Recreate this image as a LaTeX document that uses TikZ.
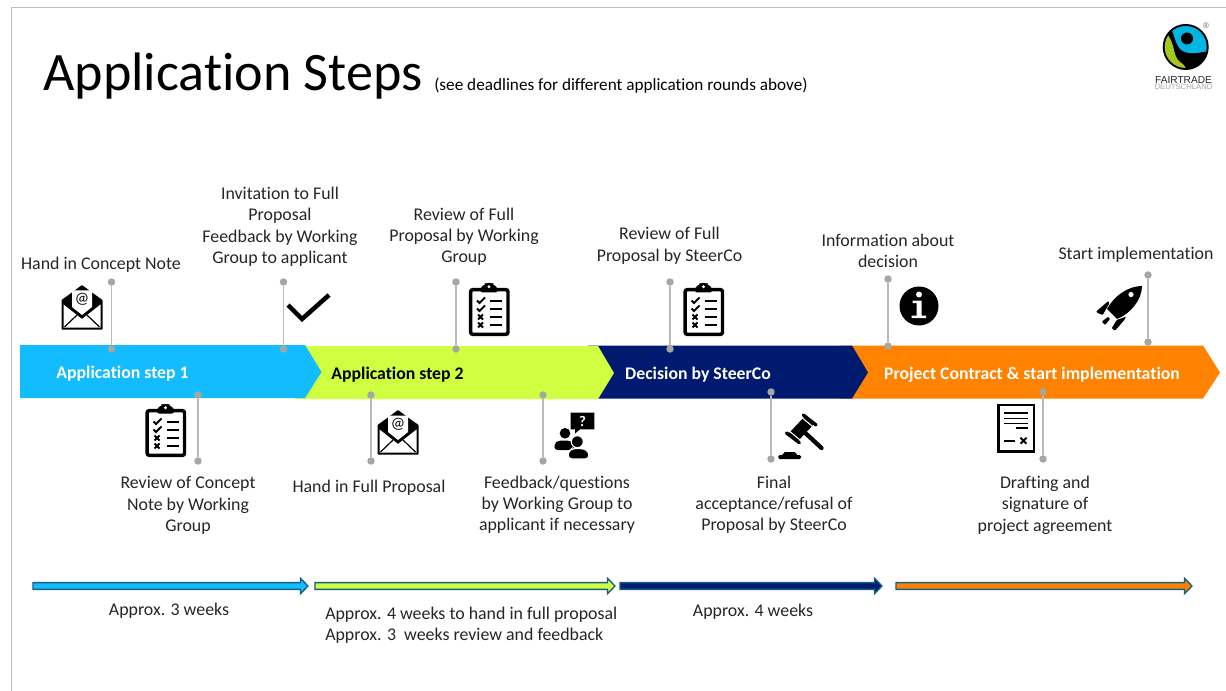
\documentclass[tikz,border=0pt]{standalone}
\usepackage{fontspec}
\usetikzlibrary{calc}
\setmainfont[Ligatures=CommonOff]{Carlito}
\newfontfamily\logofont{Liberation Sans}
\definecolor{cblue}{HTML}{12BCFF}
\definecolor{cgreen}{HTML}{CFFF40}
\definecolor{cnavy}{HTML}{001A70}
\definecolor{corange}{HTML}{FF8200}
\definecolor{edge}{HTML}{156082}
\definecolor{ink}{HTML}{262626}
\definecolor{leadc}{HTML}{B8BAB6}
\definecolor{dotc}{HTML}{A3A9A0}
\definecolor{logoblue}{HTML}{00B5E2}
\definecolor{logogreen}{HTML}{A4C81E}
\tikzset{
  x=0.75pt,y=-0.75pt,
  lab/.style={font=\fontsize{13.4pt}{15.85pt}\selectfont,text=ink,align=center,inner sep=0,yshift=-.6pt},
  barlab/.style={font=\fontsize{13.3pt}{15pt}\selectfont\bfseries,inner sep=0,yshift=-1.1pt},
  lead/.style={draw=leadc,line width=1.1pt},
  leaddot/.style={circle,fill=dotc,minimum size=5.6pt,inner sep=0},
  timearrow/.style={draw=edge,line width=1pt},
  pics/mail/.style={code={
    \fill[black,rounded corners=.5] (0,15)--(7,10)--(20.5,0)--(34,10)--(41,15)--(41,44.5)--(0,44.5)--cycle;
    \fill[white] (2,19.5)--(20.5,34)--(39,19.5)--(39,42.5)--(2,42.5)--cycle;
    \draw[black,line width=.9pt] (3,42)--(15.5,30) (38,42)--(25.5,30);
    \fill[white] (10.5,5.5)--(30.5,5.5)--(30.5,22)--(20.5,30)--(10.5,22)--cycle;
    \node[inner sep=0,font=\fontsize{12pt}{12pt}\selectfont] at (20.5,14.5) {@};
  }},
  pics/clip/.style={code={
    \draw[black,line width=2.6pt,rounded corners=1.5,fill=white] (1.7,6.7) rectangle (39,51.3);
    \fill[black,rounded corners=1.5] (11.5,4)--(14.5,4)--(15,1)--(17,0)--(23,0)--(25,1)--(25.5,4)--(28.5,4)--(28.5,9.5)--(11.5,9.5)--cycle;
    \fill[white] (20,3.8) circle (1.6);
    \foreach \yy in {17.5,25.5} {
      \draw[black,line width=1.4pt] (8,\yy)--(10.5,\yy+2.5)--(16,\yy-3);
    }
    \foreach \yy in {34,42} {
      \draw[black,line width=1.5pt] (9,\yy-2.5)--(14,\yy+2.5) (14,\yy-2.5)--(9,\yy+2.5);
    }
    \foreach \yy in {18,26,34,42} {
      \draw[black,line width=1.5pt] (21,\yy)--(33,\yy);
    }
  }},
}
\begin{document}
\begin{tikzpicture}
\useasboundingbox (0,0) rectangle (1226,691);
\fill[white] (0,0) rectangle (1226,691);
% page frame
\draw[draw=black!25,line width=.75pt] (11,691)--(11,8)--(1226,8);

% title
\node[anchor=base west,inner sep=0,font=\fontsize{40.6pt}{44pt}\selectfont,text=black] (title) at (43,91) {Application Steps};
\node[anchor=base west,inner sep=0,font=\fontsize{12.9pt}{14pt}\selectfont,text=black] (subtitle) at (434,91) {(see deadlines for different application rounds above)};

% logo
\begin{scope}
  \fill[black] (1185.7,47) circle (23);
  \begin{scope}
    \clip (1185.7,47) circle (21);
    \fill[logoblue] (1169,23)..controls (1175,36) and (1175,44)..(1181,50)
       ..controls (1190,56) and (1200,52)..(1210,51)--(1210,20)--cycle;
    \fill[logogreen] (1165,32)..controls (1176,42) and (1172,56)..(1180,62)
       ..controls (1184,64) and (1186,68)..(1187,72)--(1160,72)--(1160,32)--cycle;
  \end{scope}
  \fill[black] (1187,38.5) circle (6);
  \node[inner sep=0,font=\logofont\fontsize{6pt}{6pt}\selectfont,text=black!60] (reg) at (1206,26) {®};
  \node[inner sep=0,anchor=base,font=\logofont\fontsize{7.6pt}{8pt}\selectfont,text=black!85] (ftname) at (1183.5,84) {FAIRTRADE};
  \node[inner sep=0,anchor=base,font=\logofont\fontsize{5.8pt}{6pt}\selectfont,text=black!35] (ftde) at (1183.5,90) {DEUTSCHLAND};
\end{scope}

% chevrons
\fill[corange] (840,345.5)--(1203,345.5)--(1220,372.5)--(1203,398.5)--(840,398.5)--cycle;
\fill[cnavy] (588,345.5)--(852,345.5)--(868,372.5)--(852,398.5)--(588,398.5)--cycle;
\fill[cgreen] (295,346)--(598,346)--(614,373)--(598,399)--(295,399)--cycle;
\fill[cblue] (20,345)--(305,345)--(321.5,372)--(305,398)--(20,398)--cycle;

\node[barlab,text=white] (s1) at (122.5,372) {Application step 1};
\node[barlab,text=black] (s2) at (397.5,373) {Application step 2};
\node[barlab,text=white] (s3) at (698,373) {Decision by SteerCo};
\node[barlab,text=white] (s4) at (1032,373) {Project Contract \& start implementation};

% lead lines
\foreach \nm/\xx/\ya/\yb in {a/111.5/282/349,b/283.5/282/349,c/198/395/461,d/371/395/461,e/456/282/349,f/670/282/349,g/543/395/461,h/771/392/459,i/888/279/346,j/1148/275/342,k/1043/392/459}{
  \node[leaddot] (\nm1) at (\xx,\ya) {};
  \node[leaddot] (\nm2) at (\xx,\yb) {};
  \draw[lead] (\nm1)--(\nm2);
}

% icons
\pic at (61.5,285) {mail};
\pic at (377.5,410) {mail};
\pic at (145.5,404) {clip};
\pic at (469,283) {clip};
\pic at (683.5,283) {clip};
% check
\draw[black,line width=3.4pt,miter limit=10] (288,305)--(302,319)--(329,295);
% info
\fill[black] (919,306) circle (19.5);
\fill[white] (919,294.5) circle (3);
\fill[white] (912.5,300.5)--(921.5,300.5)--(921.5,315.5)--(926,315.5)--(926,318)--(911.5,318)--(911.5,315.5)--(916.5,315.5)--(916.5,303)--(912.5,303)--cycle;
% rocket
\fill[black] (1142,286)..controls (1128,286) and (1114,296)..(1107,309)
   --(1117,319)..controls (1130,314) and (1142,300)..(1142,286)--cycle;
\fill[white] (1131,294.5) circle (2.6);
\fill[black,rounded corners=.6] (1096,311.7)--(1108.3,301)--(1109.3,303.3)--(1102.7,315)--(1098.3,313.3)--cycle;
\fill[black,rounded corners=.6] (1126,316.7)--(1124.3,320)--(1115,330.7)--(1111.7,328.3)--(1116.7,320)--cycle;
\fill[black,rounded corners=.6] (1101.7,321.7)--(1108.3,316.7)--(1110,319)--(1105,325)--cycle;
% gavel
\draw[black,line width=3.2pt,line cap=round] (801,429)--(821.5,448);
\draw[black,line width=9pt] (809.6,420)--(793,437.5);
\draw[white,line width=.8pt] (803,418.5)--(815,428.5);
\draw[black,line width=2.5pt,line cap=round] (803.3,415)--(816,425);
\draw[white,line width=.8pt] (788,430)--(800,440);
\draw[black,line width=2.5pt,line cap=round] (786.5,433)--(799.3,442.7);
\fill[black,rounded corners=1] (778.3,455)--(783.5,455)--(783.5,452)--(796,452)--(796,455)--(801,455)--(801,459)--(778.3,459)--cycle;
% people
\fill[black] (570.7,412.7)--(594.3,412.7)--(594.3,429.3)--(580,429.3)--(575,433.5)--(575,429.3)--(570.7,429.3)--cycle;
\node[inner sep=0,text=white,font=\fontsize{11pt}{11pt}\selectfont\bfseries] (qmark) at (582.5,421) {?};
\fill[black] (565,433.3) circle (5.3);
\fill[black,rounded corners=2.5] (554.3,450)--(554.3,444)--(558,440.5)--(570,440.5)--(574,444)--(574,450)--cycle;
\fill[black,draw=white,line width=.8pt] (577.3,441.7) circle (6);
\fill[black,draw=white,line width=.8pt,rounded corners=3] (568,459)--(568,452)--(572,448.5)--(584,448.5)--(589,452)--(589,459)--cycle;
% contract
\draw[black,line width=2.1pt,fill=white] (998.5,405)rectangle(1034,451.7);
\draw[black,line width=1.2pt] (1004.3,412.7)--(1028.3,412.7) (1004.3,418.3)--(1028.3,418.3) (1004.3,423.3)--(1028.3,423.3) (1016,427.7)--(1028.3,427.7);
\draw[black,line width=1.3pt] (1004.3,440.7)--(1015,440.7);
\draw[black,line width=1.5pt] (1020.5,437.7)--(1026.5,443.7) (1026.5,437.7)--(1020.5,443.7);

% step labels
\node[lab] (t1) at (101,264) {Hand in Concept Note};
\node[lab] (t2) at (280,226) {Invitation to Full\\Proposal\\Feedback by Working\\Group to applicant};
\node[lab] (t3) at (464,236) {Review of Full\\Proposal by Working\\Group};
\node[lab] (t4) at (669.5,245) {Review of Full\\Proposal by SteerCo};
\node[lab] (t5) at (888,250) {Information about\\decision};
\node[lab] (t6) at (1136,253.5) {Start implementation};
\node[lab] (t7) at (188,504.5) {Review of Concept\\Note by Working\\Group};
\node[lab] (t8) at (369,486.5) {Hand in Full Proposal};
\node[lab] (t9) at (557,504) {Feedback/questions\\by Working Group to\\applicant if necessary};
\node[lab] (t10) at (774,504) {Final\\acceptance/refusal of\\Proposal by SteerCo};
\node[lab] (t11) at (1045,504.5) {Drafting and\\signature of\\project agreement};

% timeline arrows
\foreach \xa/\xb/\cc/\nn in {33/308/cblue/w1,315/615/cgreen/w2,620/882/cnavy/w3,896/1192/corange/w4}{
  \coordinate (\nn a) at (\xa,586);
  \coordinate (\nn b) at (\xb,586);
  \path[timearrow,fill=\cc] ($(\nn a)+(0,-3.4)$)--($(\nn b)+(-7.5,-3.4)$)--($(\nn b)+(-7.5,-7.7)$)--(\nn b)--($(\nn b)+(-7.5,7.7)$)--($(\nn b)+(-7.5,3.4)$)--($(\nn a)+(0,3.4)$)--cycle;
}
\node[lab] (u1) at (169,609.5) {Approx. 3 weeks};
\node[lab,align=left,anchor=west] (u2) at (325,624) {Approx. 4 weeks to hand in full proposal\\Approx. 3\ \ weeks review and feedback};
\node[lab] (u3) at (753,610.5) {Approx. 4 weeks};
\end{tikzpicture}
\end{document}
